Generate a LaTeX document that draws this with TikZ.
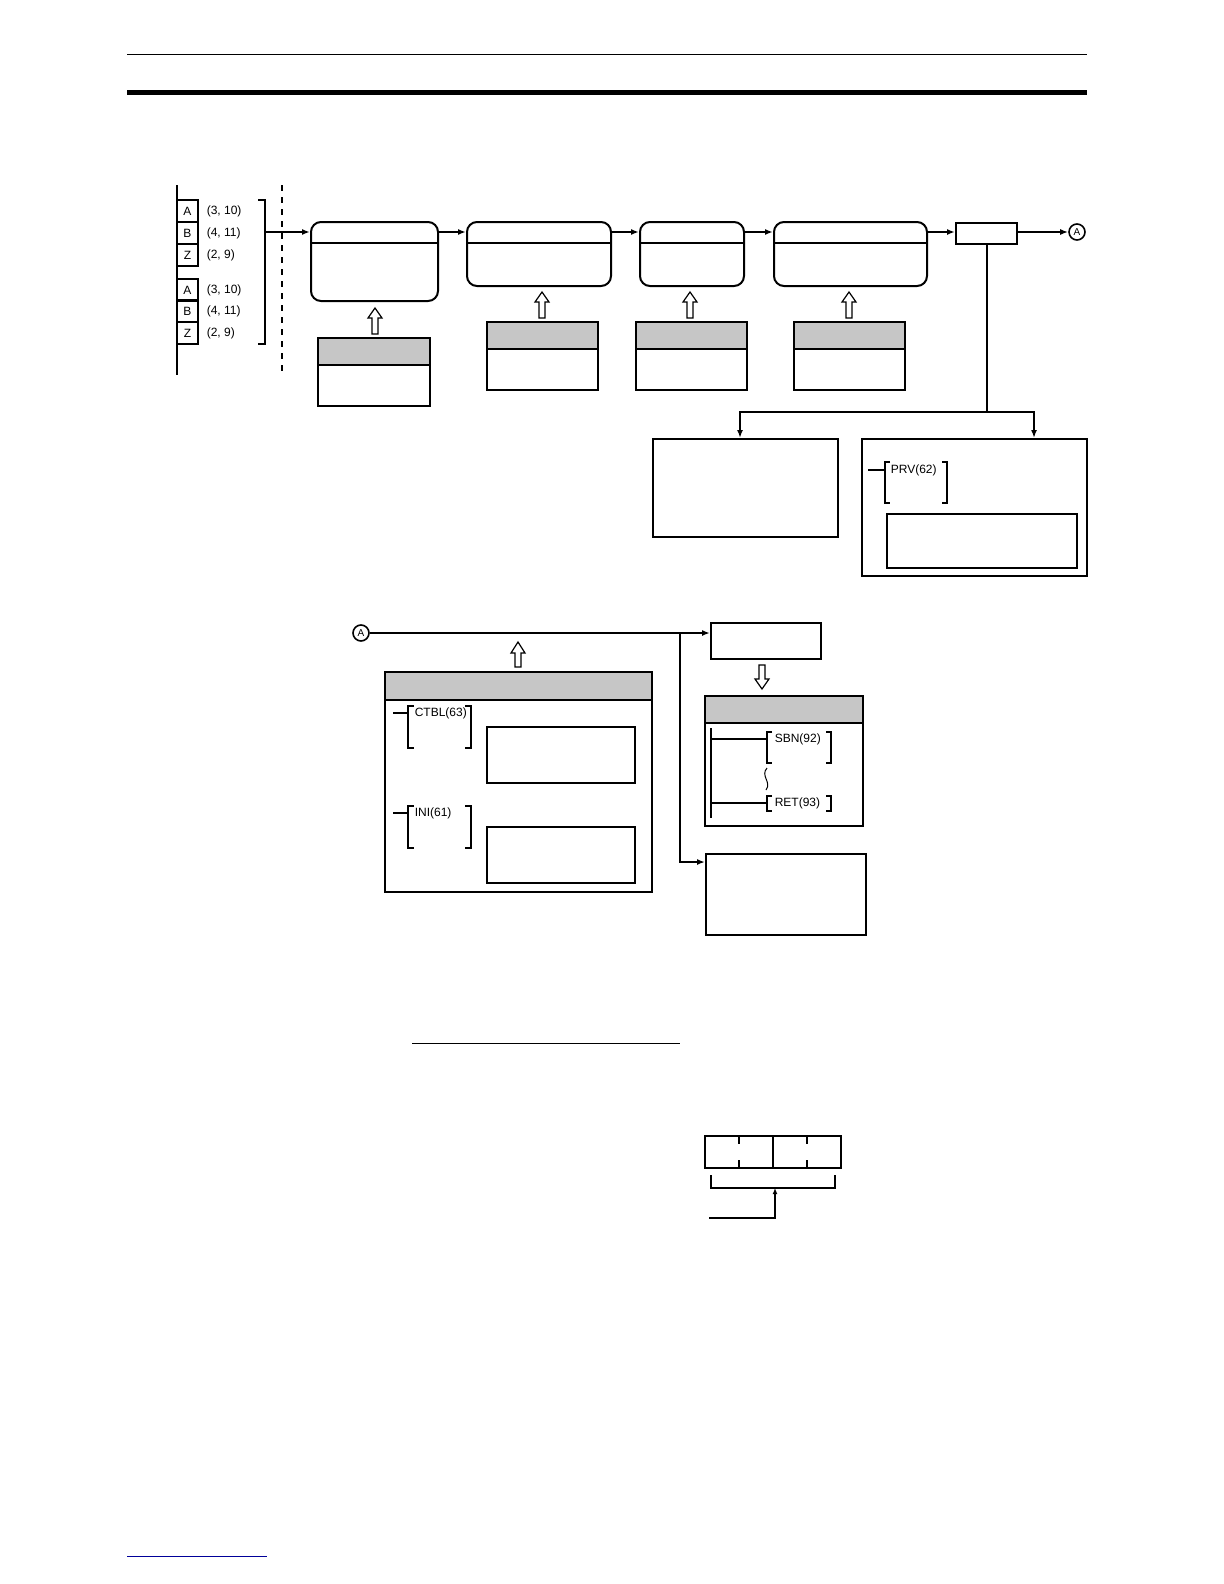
\documentclass[tikz,border=0pt]{standalone}
\usepackage{fontspec}
\setmainfont{Liberation Sans}
\usetikzlibrary{arrows.meta}
\begin{document}
\begin{tikzpicture}[x=0.5pt,y=-0.5pt,line width=0.8pt,
  arr/.style={-{Latex[length=4pt,width=3pt]}},
  lbl/.style={font=\fontsize{6}{7}\selectfont,anchor=west,inner sep=0},
  hol/.style={draw,line width=0.6pt,fill=white},
  hdr/.style={fill=gray!45,draw}]
\useasboundingbox (0,0) rectangle (1224,1584);
% header rules
\draw[line width=0.5pt] (127,55) -- (1087,55);
\fill (127,90) rectangle (1087,95);
\draw[line width=0.5pt,blue!60!black] (127,1556) -- (267,1556);
% left data panel
\draw (177,185) -- (177,375);
\foreach \y/\l/\v in {200/A/{(3, 10)},222/B/{(4, 11)},244/Z/{(2, 9)},279/A/{(3, 10)},300/B/{(4, 11)},322/Z/{(2, 9)}}{
  \draw[line width=0.6pt] (177,\y) rectangle (198,\y+22);
  \node[lbl,anchor=center] at (187.5,\y+11) {\l};
  \node[lbl] at (206,\y+11) {\v};}
\draw[line width=0.6pt] (258,200) -- (265,200) -- (265,344) -- (258,344);
\draw[dashed,line width=1pt] (282,185) -- (282,375);
% process boxes
\node[draw,rounded corners=5pt,minimum width=127*0.5pt,minimum height=79*0.5pt,anchor=north west,line width=1pt] (b1) at (310,221) {};
\draw[line width=0.6pt] (310,243) -- (437,243);
\node[draw,rounded corners=5pt,minimum width=144*0.5pt,minimum height=64*0.5pt,anchor=north west,line width=1pt] (b2) at (466,221) {};
\draw[line width=0.6pt] (466,243) -- (610,243);
\node[draw,rounded corners=5pt,minimum width=104*0.5pt,minimum height=64*0.5pt,anchor=north west,line width=1pt] (b3) at (639,221) {};
\draw[line width=0.6pt] (639,243) -- (743,243);
\node[draw,rounded corners=5pt,minimum width=153*0.5pt,minimum height=64*0.5pt,anchor=north west,line width=1pt] (b4) at (773,221) {};
\draw[line width=0.6pt] (773,243) -- (926,243);
\node[draw,minimum width=61*0.5pt,minimum height=21*0.5pt,anchor=north west,line width=1pt,inner sep=0] (b5) at (955,222) {};
\node[draw,circle,inner sep=0,minimum size=16*0.5pt,font=\fontsize{5}{6}\selectfont] (cA) at (1077,232) {A};
\coordinate (in1) at (265,232);
\draw[arr] (in1) -- (b1.west|-in1);
\draw[arr] (b1.east|-in1) -- (b2.west|-in1);
\draw[arr] (b2.east|-in1) -- (b3.west|-in1);
\draw[arr] (b3.east|-in1) -- (b4.west|-in1);
\draw[arr] (b4.east|-in1) -- (b5.west|-in1);
\draw[arr] (b5.east|-in1) -- (cA);
% sub boxes
\foreach \a/\b/\t/\h/\bt in {318/430/338/365/406,487/598/322/349/390,636/747/322/349/390,794/905/322/349/390}{
  \draw[hdr] (\a,\t) rectangle (\b,\h);
  \draw[line width=1pt] (\a,\t) rectangle (\b,\bt);}
% hollow up arrows
\foreach \x/\ya/\yb in {375/334/308,542/318/292,690/318/292,849/318/292}{
  \draw[hol] (\x-3,\ya) -- (\x-3,\yb+10) -- (\x-7,\yb+10) -- (\x,\yb) -- (\x+7,\yb+10) -- (\x+3,\yb+10) -- (\x+3,\ya) -- cycle;}
% branch from b5
\node[draw,minimum width=185*0.5pt,minimum height=98*0.5pt,anchor=north west,line width=1pt] (o1) at (652,438) {};
\node[draw,minimum width=225*0.5pt,minimum height=137*0.5pt,anchor=north west,line width=1pt] (o2) at (861,438) {};
\coordinate (j1) at (987,412);
\draw (b5.south-|j1) -- (j1);
\draw[arr] (j1) -| (740,438);
\draw[arr] (j1) -| (1034,438);
\draw[line width=0.6pt] (868,470) -- (885,470);
\draw[line width=0.6pt] (890,462) -- (885,462) -- (885,503) -- (890,503);
\draw[line width=0.6pt] (942,462) -- (947,462) -- (947,503) -- (942,503);
\node[lbl] at (890,470) {PRV(62)};
\draw[line width=0.6pt] (887,514) rectangle (1077,568);
% second row
\node[draw,circle,inner sep=0,minimum size=16*0.5pt,font=\fontsize{5}{6}\selectfont] (cA2) at (361,633) {A};
\node[draw,minimum width=110*0.5pt,minimum height=36*0.5pt,anchor=north west,line width=1pt] (c1) at (710,622) {};
\node[draw,minimum width=160*0.5pt,minimum height=81*0.5pt,anchor=north west,line width=1pt] (c3) at (705,853) {};
\coordinate (j2) at (680,633);
\draw[arr] (cA2) -- (c1.west|-cA2);
\draw[arr] (j2) |- (705,862);
% hollow arrows row 2
\draw[hol] (759,665) -- (759,679) -- (755,679) -- (762,689) -- (769,679) -- (765,679) -- (765,665) -- cycle;
\draw[hol] (515,667) -- (515,653) -- (511,653) -- (518,642) -- (525,653) -- (521,653) -- (521,667) -- cycle;
% big left box
\draw[hdr] (385,672) rectangle (652,700);
\draw[line width=1pt] (385,672) rectangle (652,892);
\foreach \y/\t in {713/{CTBL(63)},813/{INI(61)}}{
  \draw[line width=0.6pt] (393,\y) -- (408,\y);
  \draw[line width=0.6pt] (414,\y-7) -- (408,\y-7) -- (408,\y+35) -- (414,\y+35);
  \draw[line width=0.6pt] (465,\y-7) -- (471,\y-7) -- (471,\y+35) -- (465,\y+35);
  \node[lbl] at (414,\y) {\t};
  \draw[line width=0.6pt] (487,\y+14) rectangle (635,\y+70);}
% subroutine box
\draw[hdr] (705,696) rectangle (863,723);
\draw[line width=1pt] (705,696) rectangle (863,826);
\draw[line width=0.6pt] (711,728) -- (711,818);
\foreach \y/\yb/\t in {739/763/{SBN(92)},803/811/{RET(93)}}{
  \draw[line width=0.6pt] (711,\y) -- (767,\y);
  \draw[line width=0.6pt] (772,\y-7) -- (767,\y-7) -- (767,\yb) -- (772,\yb);
  \draw[line width=0.6pt] (826,\y-7) -- (831,\y-7) -- (831,\yb) -- (826,\yb);
  \node[lbl] at (774,\y) {\t};}
\draw[line width=0.5pt] (767,768) .. controls (760,776) and (772,782) .. (766,790);
% underline
\draw[line width=0.5pt] (412,1043) -- (680,1043);
% register
\draw[line width=0.6pt] (705,1136) rectangle (841,1168);
\draw[line width=0.6pt] (773,1136) -- (773,1168);
\foreach \x in {739,807}{\draw[line width=0.6pt] (\x,1136) -- (\x,1144) (\x,1160) -- (\x,1168);}
\draw[line width=0.6pt] (711,1175) -- (711,1188) -- (835,1188) -- (835,1175);
\coordinate (rb) at (775,1188);
\coordinate (rs) at (709,1218);
\draw[-{Latex[length=3pt,width=2.5pt]},line width=0.6pt] (rs) -| (rb);
\end{tikzpicture}
\end{document}
